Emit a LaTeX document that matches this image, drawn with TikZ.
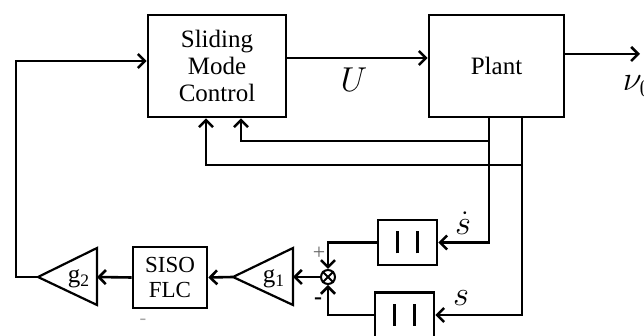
\documentclass[tikz,border=0pt]{standalone}
\usepackage{fontspec}
\setmainfont{Liberation Serif}
\usetikzlibrary{arrows.meta}
\begin{document}
\begin{tikzpicture}[x=0.5pt,y=-0.5pt,
    line width=1.3pt,
    arr/.style={-{Straight Barb[length=3.5pt,width=7pt]}},
    blockbox/.style={draw,rectangle,align=center,font=\fontsize{12.5}{13.5}\selectfont},
    delaybox/.style={draw,rectangle,minimum width=29.5pt,minimum height=22.5pt,inner sep=0pt},
    sumnode/.style={draw,circle,minimum size=7pt,inner sep=0pt,line width=1pt},
    lbl/.style={font=\fontsize{17}{17}\selectfont}]
    \useasboundingbox (0,0) rectangle (644,336);

    % Blocks
    \node[blockbox,minimum width=69pt,minimum height=51pt] (smc) at (217,66) {Sliding\\Mode\\Control};
    \node[blockbox,minimum width=67.5pt,minimum height=51pt] (plant) at (496.5,66) {Plant};
    \node[blockbox,minimum width=37pt,minimum height=30.5pt,font=\fontsize{11.5}{12.5}\selectfont] (siso) at (170,277.5) {SISO\\FLC};
    \node[delaybox] (d1) at (407.5,242.5) {\rule{1.6pt}{11pt}\hspace{8.5pt}\rule{1.6pt}{11pt}};
    \node[delaybox] (d2) at (404.5,315) {\rule{1.6pt}{11pt}\hspace{8.5pt}\rule{1.6pt}{11pt}};

    % Gains
    \coordinate (g1out) at (233,277);
    \coordinate (g1in) at (293,277);
    \draw[line width=1.1pt] (g1out) -- (293,248) -- (293,305) -- cycle;
    \node[font=\fontsize{12.5}{13.5}\selectfont] (g1) at (274,279) {g\textsubscript{1}};
    \coordinate (g2out) at (38,277);
    \coordinate (g2in) at (97,277);
    \draw[line width=1.1pt] (g2out) -- (97,248) -- (97,305) -- cycle;
    \node[font=\fontsize{12.5}{13.5}\selectfont] (g2) at (79,279) {g\textsubscript{2}};

    % Sum
    \node[sumnode] (sum) at (328,277) {};
    \draw[line width=0.9pt] (sum.north west) -- (sum.south east) (sum.north east) -- (sum.south west);
    \node[font=\fontsize{11}{11}\selectfont,text=black!60] (plus) at (319,253) {+};
    \node[font=\bfseries\fontsize{12}{12}\selectfont] (minus) at (318,301) {-};
    \node[font=\fontsize{10}{10}\selectfont,text=black!35] (dash) at (143,322) {-};

    % Forward path
    \draw[arr] ([yshift=4pt]smc.east) -- ([yshift=4pt]plant.west);
    \node[lbl] (u) at (354,80) {$U$};
    \coordinate (out) at (640,54);
    \draw[arr] (plant.east |- out) -- (out);
    \node[lbl,anchor=west] (v0) at (615,86) {$\nu_0$};

    % Feedback taps
    \coordinate (ta) at (489,0);
    \coordinate (tb) at (522,0);
    \coordinate (ca) at (241,141);
    \coordinate (cb) at (206,165);
    \draw[arr] (tb |- plant.south) -- (tb |- cb) -- (cb) -- (cb |- smc.south);
    \draw[arr] (ta |- ca) -- (ca) -- (ca |- smc.south);
    \draw[arr] (ta |- plant.south) -- (ta |- d1) -- (d1.east);
    \draw[arr] (tb |- cb) -- (tb |- d2) -- (d2.east);
    \node[lbl] (sdot) at (463,223) {$\dot{s}$};
    \node[lbl] (s) at (461,298) {$s$};

    % Error and fuzzy path
    \draw[arr] (d1.west) -| (sum.north);
    \draw[arr] (d2.west) -| (sum.south);
    \draw[arr] (sum.west) -- (g1in);
    \draw[arr] (g1out) -- (siso.east);
    \draw[arr] (siso.west) -- (g2in);
    \coordinate (lft) at (16,61);
    \draw[arr] (g2out) -| (lft) -- (smc.west |- lft);
\end{tikzpicture}
\end{document}
